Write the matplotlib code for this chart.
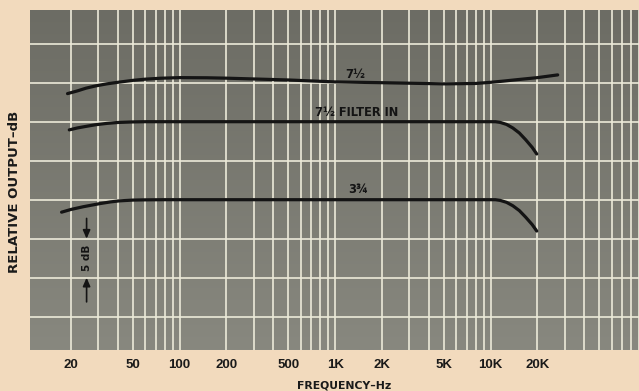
import numpy as np
import matplotlib.pyplot as plt
from matplotlib.colors import LinearSegmentedColormap

# Relative output (dB) versus frequency (Hz) for three tape conditions
freq_75 = [19, 22, 25, 29, 34, 40, 50, 60, 75, 100, 150, 200, 500, 1000, 2000,
           5000, 8000, 10000, 12000, 15000, 20000, 27000]
db_75 = [3.6, 3.95, 4.3, 4.6, 4.85, 5.05, 5.3, 5.45, 5.57, 5.65, 5.63, 5.58, 5.35,
         5.1, 5.0, 4.85, 4.9, 5.05, 5.2, 5.4, 5.65, 6.0]

freq_75_filter = [19.5, 22, 25, 29, 34, 40, 50, 60, 100, 1000, 10730, 11520, 12660,
                  13900, 15300, 16800, 18500, 19800]
db_75_filter = [-1.05, -0.8, -0.6, -0.38, -0.22, -0.1, -0.03, 0.0, 0.0, 0.0, 0.0,
                -0.09, -0.35, -0.81, -1.45, -2.31, -3.29, -4.14]

freq_375 = [17.4, 20, 24, 30.7, 36, 41, 50, 60, 80, 1000, 10730, 11520, 12660,
            13900, 15300, 16800, 18500, 19800]
db_375 = [-11.6, -11.25, -10.9, -10.5, -10.28, -10.15, -10.05, -10.02, -10.0, -10.0,
          -10.0, -10.09, -10.34, -10.78, -11.4, -12.24, -13.19, -14.02]

tick_freqs = [20, 50, 100, 200, 500, 1000, 2000, 5000, 10000, 20000]
tick_labels = ["20", "50", "100", "200", "500", "1K", "2K", "5K", "10K", "20K"]

paper = "#f2dabd"
grid_col = "#ecead9"
ink = "#141414"

fig = plt.figure(figsize=(6.39, 3.91), dpi=100, facecolor=paper)
ax = fig.add_axes([30 / 639, 41 / 391, 609 / 639, 340 / 391])
ax.set_xscale("log")
ax.set_xlim(10.9, 90000)
ax.set_ylim(-29.27, 14.32)

# chart paper, slightly darker toward the top
grad = np.linspace(0, 1, 256).reshape(-1, 1)
cmap = LinearSegmentedColormap.from_list("paper", ["#88887f", "#6c6c64"])
ax.imshow(grad, extent=[10.9, 90000, -29.27, 14.32], origin="lower",
          aspect="auto", cmap=cmap, zorder=0)

# grid lines
vgrid = [m * 10 ** e for e in range(1, 5) for m in range(1, 10)]
vgrid = [v for v in vgrid if 20 <= v <= 90000]
for v in vgrid:
    ax.axvline(v, color=grid_col, lw=1.2, zorder=1)
for h in range(-25, 15, 5):
    ax.axhline(h, color=grid_col, lw=1.2, zorder=1)

# response curves
for f, d in [(freq_75, db_75), (freq_75_filter, db_75_filter), (freq_375, db_375)]:
    ax.plot(f, d, color=ink, lw=2.3, solid_capstyle="round",
            solid_joinstyle="round", zorder=3)

lab = dict(fontfamily="DejaVu Sans", fontweight="bold", fontsize=8.3, color=ink,
           ha="center", va="center", zorder=4)
ax.text(1340, 6.0, "7½", **lab)
ax.text(1380, 1.15, "7½ FILTER IN", **lab)
ax.text(1400, -8.75, "3¾", **lab)

# 5 dB scale marker
arrow = dict(arrowstyle="-|>,head_length=0.5,head_width=0.22", color=ink, lw=1.2,
             shrinkA=0, shrinkB=0)
ax.annotate("", xy=(25.2, -15), xytext=(25.2, -12.4), arrowprops=arrow, zorder=4)
ax.annotate("", xy=(25.2, -20), xytext=(25.2, -23.1), arrowprops=arrow, zorder=4)
ax.text(25.2, -17.5, "5 dB", rotation=90, **dict(lab, fontsize=7.5))

ax.set_xticks(tick_freqs)
ax.set_xticklabels(tick_labels)
ax.xaxis.set_minor_locator(plt.NullLocator())
ax.set_yticks([])
ax.tick_params(axis="x", length=0, pad=6.5, labelsize=9.5)
for t in ax.get_xticklabels():
    t.set_fontfamily("Liberation Sans")
    t.set_fontweight("bold")
    t.set_color("#1a1a1a")
for s in ax.spines.values():
    s.set_visible(False)

fig.text(344 / 639, 1 - 385 / 391, "FREQUENCY–Hz", ha="center", va="center",
         fontfamily="DejaVu Sans", fontweight="bold", fontsize=7.8, color="#1a1a1a")
fig.text(15 / 639, 1 - 192 / 391, "RELATIVE OUTPUT–dB", ha="center", va="center",
         rotation=90, fontfamily="DejaVu Sans", fontweight="bold", fontsize=9.5,
         color="#1a1a1a")

fig.savefig("out.png", dpi=100, facecolor=paper)
